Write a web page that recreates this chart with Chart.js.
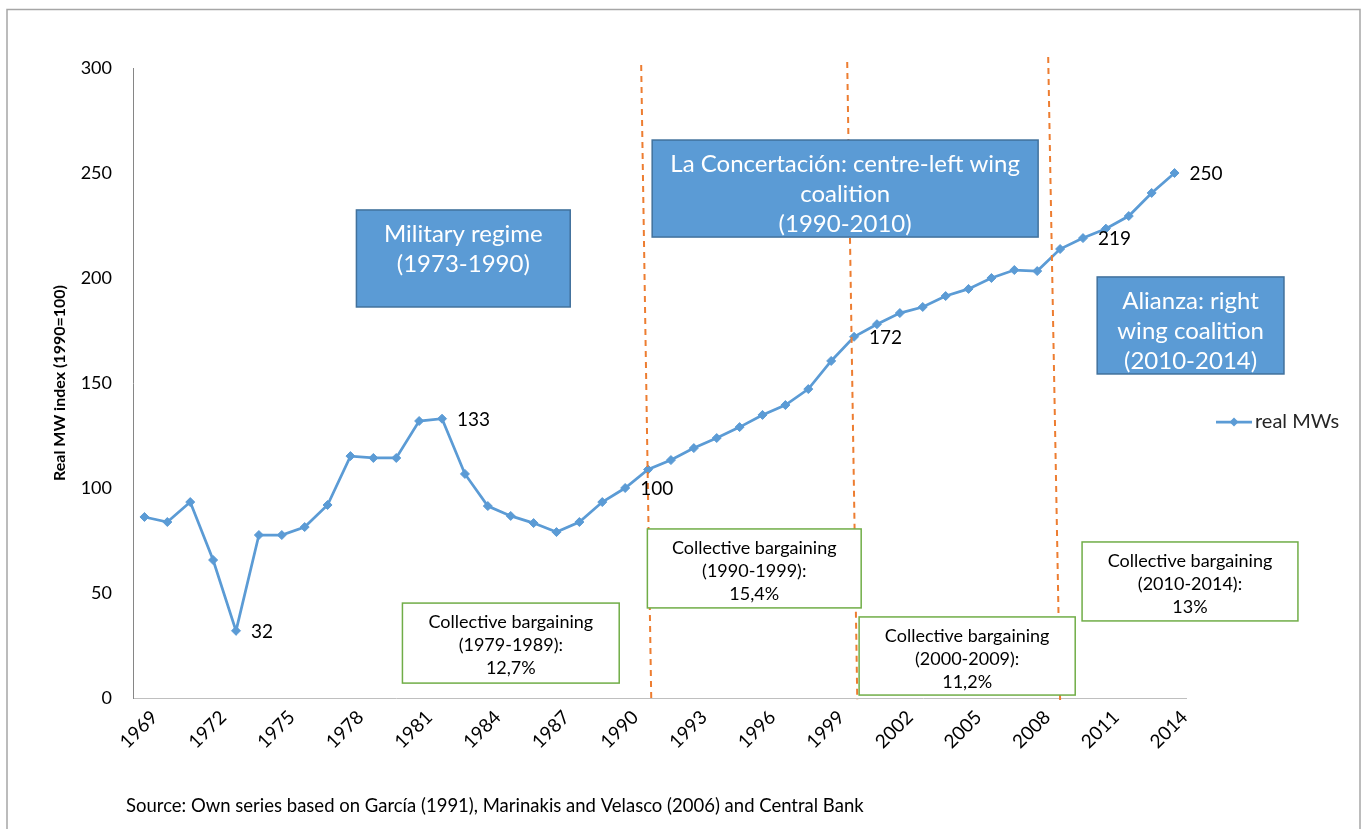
<!DOCTYPE html>
<html>
<head>
<meta charset="utf-8">
<title>Real MW index</title>
<script src="https://cdn.jsdelivr.net/npm/chart.js@4.4.1/dist/chart.umd.min.js"></script>
<style>
  html, body { margin: 0; padding: 0; background: #fff; }
  canvas { display: block; }
</style>
</head>
<body>
<canvas id="mwChart" width="1365" height="829"></canvas>
<script>
// ---- data ----
const years = [];
for (let y = 1969; y <= 2014; y++) years.push(String(y));

const realMW = [
  86.2, 83.8, 93.3, 65.7, 32.0, 77.6, 77.6, 81.4, 91.9, 115.2,
  114.3, 114.3, 131.9, 133.0, 106.7, 91.4, 86.7, 83.3, 79.0, 83.8,
  93.3, 100.0, 108.8, 113.3, 119.0, 123.8, 129.0, 134.8, 139.5, 147.1,
  160.5, 172.0, 178.0, 183.3, 186.2, 191.4, 194.8, 200.0, 203.8, 203.3,
  213.8, 219.0, 223.5, 229.5, 240.5, 250.0
];

// years whose value gets a data label
const labelledYears = ['1973', '1982', '1990', '2000', '2010', '2014'];

const yTicks = [0, 50, 100, 150, 200, 250, 300];

// ---- annotation layout (in data units: year / index value) ----
const regimeBoxes = [
  { lines: ['Military regime', '(1973-1990)'], x0: 1978.26, x1: 1987.6, y0: 232.4, y1: 186.2 },
  { lines: ['La Concertación: centre-left wing', 'coalition', '(1990-2010)'], x0: 1991.18, x1: 2008.04, y0: 265.7, y1: 219.5 },
  { lines: ['Alianza: right', 'wing coalition', '(2010-2014)'], x0: 2010.62, x1: 2018.78, y0: 200.5, y1: 154.3 }
];

const bargainBoxes = [
  { lines: ['Collective bargaining', '(1979-1989):', '12,7%'], x0: 1980.27, x1: 1989.74, y0: 45.2, y1: 7.1 },
  { lines: ['Collective bargaining', '(1990-1999):', '15,4%'], x0: 1990.97, x1: 2000.31, y0: 80.5, y1: 42.9 },
  { lines: ['Collective bargaining', '(2000-2009):', '11,2%'], x0: 2000.22, x1: 2009.66, y0: 38.6, y1: 1.4 },
  { lines: ['Collective bargaining', '(2010-2014):', '13%'], x0: 2009.96, x1: 2019.39, y0: 74.3, y1: 36.7 }
];

const periodLines = [
  { xTop: 1990.7, yTop: 301.4, xBot: 1991.14, yBot: -1 },
  { xTop: 1999.7, yTop: 302.9, xBot: 2000.14, yBot: -1 },
  { xTop: 2008.48, yTop: 305.2, xBot: 2009.0, yBot: -1 }
];

const FONT = 'Lato, "Open Sans", sans-serif';
const BLUE = '#5B9BD5';

// year (can be fractional) -> pixel
function px(scale, year) { return scale.getPixelForValue(year - 1969); }

const annotations = {
  id: 'annotations',
  afterDatasetsDraw(chart) {
    const { ctx, scales: { x, y } } = chart;
    ctx.save();

    // dashed period separators
    ctx.strokeStyle = '#ED7D31';
    ctx.lineWidth = 2;
    ctx.setLineDash([6, 5]);
    periodLines.forEach(l => {
      ctx.beginPath();
      ctx.moveTo(px(x, l.xTop), y.getPixelForValue(l.yTop));
      ctx.lineTo(px(x, l.xBot), y.getPixelForValue(l.yBot));
      ctx.stroke();
    });
    ctx.setLineDash([]);

    // blue regime boxes
    regimeBoxes.forEach(b => {
      const left = px(x, b.x0), right = px(x, b.x1);
      const top = y.getPixelForValue(b.y0), bottom = y.getPixelForValue(b.y1);
      ctx.fillStyle = BLUE;
      ctx.fillRect(left, top, right - left, bottom - top);
      ctx.strokeStyle = '#41719C';
      ctx.lineWidth = 1.5;
      ctx.strokeRect(left, top, right - left, bottom - top);
      ctx.fillStyle = '#fff';
      ctx.font = '24px ' + FONT;
      ctx.textAlign = 'center';
      ctx.textBaseline = 'middle';
      b.lines.forEach((t, i) => ctx.fillText(t, (left + right) / 2, top + 24 + i * 30));
    });

    // green bargaining boxes
    bargainBoxes.forEach(b => {
      const left = px(x, b.x0), right = px(x, b.x1);
      const top = y.getPixelForValue(b.y0), bottom = y.getPixelForValue(b.y1);
      ctx.fillStyle = '#fff';
      ctx.fillRect(left, top, right - left, bottom - top);
      ctx.strokeStyle = '#70AD47';
      ctx.lineWidth = 1.5;
      ctx.strokeRect(left, top, right - left, bottom - top);
      ctx.fillStyle = '#000';
      ctx.font = '18px ' + FONT;
      ctx.textAlign = 'center';
      ctx.textBaseline = 'middle';
      b.lines.forEach((t, i) => ctx.fillText(t, (left + right) / 2, top + 19 + i * 23));
    });

    // value labels, right of the point
    const meta = chart.getDatasetMeta(0);
    ctx.fillStyle = '#000';
    ctx.font = '19px ' + FONT;
    ctx.textAlign = 'left';
    ctx.textBaseline = 'middle';
    labelledYears.forEach(yr => {
      const i = years.indexOf(yr);
      const pt = meta.data[i];
      ctx.fillText(Math.round(realMW[i]), pt.x + 15, pt.y + 1);
    });

    ctx.restore();
  },
  afterDraw(chart) {
    const { ctx, chartArea } = chart;
    ctx.save();

    // legend on the right
    const lx = chartArea.right + 30, ly = chartArea.top + 354;
    ctx.strokeStyle = BLUE;
    ctx.lineWidth = 2.75;
    ctx.beginPath();
    ctx.moveTo(lx, ly);
    ctx.lineTo(lx + 36, ly);
    ctx.stroke();
    ctx.fillStyle = BLUE;
    ctx.beginPath();
    ctx.moveTo(lx + 18, ly - 4.5);
    ctx.lineTo(lx + 22.5, ly);
    ctx.lineTo(lx + 18, ly + 4.5);
    ctx.lineTo(lx + 13.5, ly);
    ctx.closePath();
    ctx.fill();
    ctx.fillStyle = '#262626';
    ctx.font = '20px ' + FONT;
    ctx.textAlign = 'left';
    ctx.textBaseline = 'middle';
    ctx.fillText('real MWs', lx + 39, ly);

    // source note
    ctx.fillStyle = '#000';
    ctx.font = '18.5px ' + FONT;
    ctx.fillText('Source: Own series based on García (1991), Marinakis and Velasco (2006) and Central Bank', 126, 806);

    // outer frame
    ctx.strokeStyle = '#A6A6A6';
    ctx.lineWidth = 1.5;
    ctx.beginPath();
    ctx.moveTo(7, 840);
    ctx.lineTo(7, 9.5);
    ctx.lineTo(1360, 9.5);
    ctx.lineTo(1360, 840);
    ctx.stroke();

    ctx.restore();
  }
};

document.addEventListener('DOMContentLoaded', () => {
  const ctx = document.getElementById('mwChart').getContext('2d');
  new Chart(ctx, {
    type: 'line',
    data: {
      labels: years,
      datasets: [{
        label: 'real MWs',
        data: realMW,
        borderColor: BLUE,
        backgroundColor: BLUE,
        borderWidth: 2.75,
        pointStyle: 'rectRot',
        pointRadius: 4.5,
        pointBorderWidth: 1,
        tension: 0
      }]
    },
    options: {
      responsive: false,
      animation: false,
      devicePixelRatio: 1,
      layout: { padding: { top: 68, left: 46, right: 179, bottom: 0 } },
      scales: {
        x: {
          offset: true,
          grid: { display: false, drawTicks: false },
          border: { display: true, color: '#BFBFBF', width: 1 },
          afterFit: s => { s.height = 131; },
          ticks: {
            autoSkip: false,
            maxRotation: 45,
            minRotation: 45,
            padding: 8,
            labelOffset: 10,
            color: '#000',
            font: { family: FONT, size: 19 },
            callback: (v, i) => (i % 3 === 0 ? years[i] : '')
          }
        },
        y: {
          min: 0,
          max: 300,
          afterFit: s => { s.width = 87; },
          afterBuildTicks: s => { s.ticks = yTicks.map(v => ({ value: v })); },
          grid: { display: false, drawTicks: false },
          border: { display: true, color: '#868686', width: 1 },
          ticks: { padding: 21, color: '#000', font: { family: FONT, size: 18 } },
          title: {
            display: true,
            text: 'Real MW index (1990=100)',
            color: '#000',
            font: { family: FONT, size: 16, weight: 'bold' }
          }
        }
      },
      plugins: {
        legend: { display: false },
        tooltip: { enabled: false }
      }
    },
    plugins: [annotations]
  });
});
</script>
</body>
</html>
